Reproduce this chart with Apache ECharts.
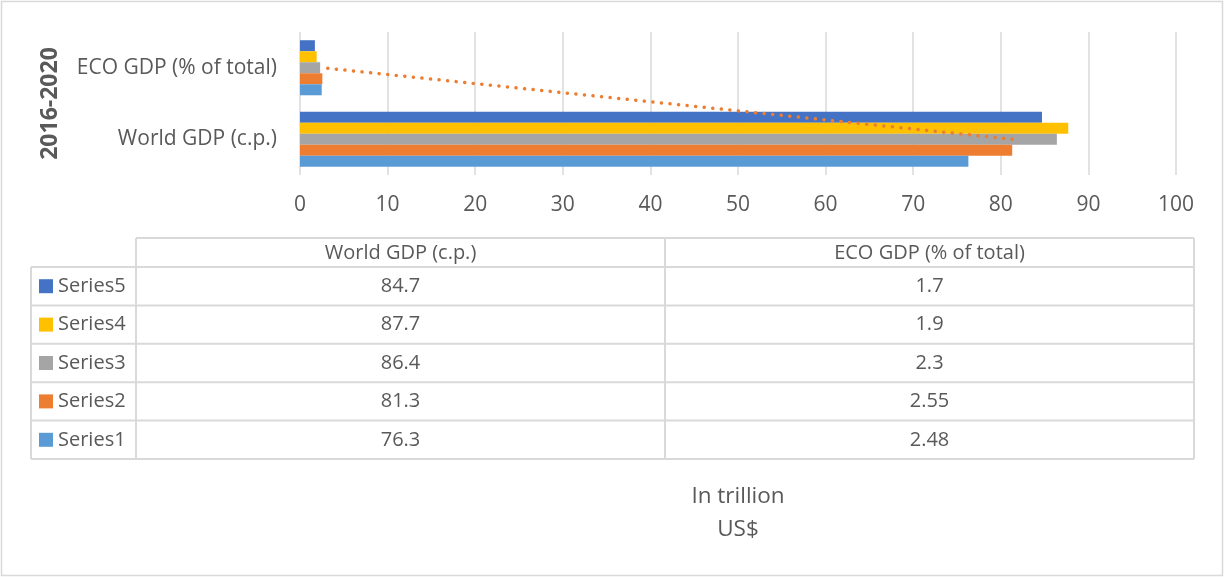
<!DOCTYPE html>
<html>
<head>
<meta charset="utf-8">
<script src="https://cdn.jsdelivr.net/npm/echarts@6/dist/echarts.min.js"></script>
<style>
  html, body { margin: 0; padding: 0; background: #fff; }
  #chart { width: 1225px; height: 577px; }
</style>
</head>
<body>
<div id="chart"></div>
<script>
// Categories, bottom to top on the bar axis
const categories = ['World GDP (c.p.)', 'ECO GDP (% of total)'];
const periodLabel = '2016-2020';
const seriesNames = ['Series1', 'Series2', 'Series3', 'Series4', 'Series5'];
const seriesColors = ['#5B9BD5', '#ED7D31', '#A5A5A5', '#FFC000', '#4472C4'];
// Values per series: [World GDP, ECO GDP]
const series1 = [76.3, 2.48];
const series2 = [81.3, 2.55];
const series3 = [86.4, 2.3];
const series4 = [87.7, 1.9];
const series5 = [84.7, 1.7];
const seriesValues = [series1, series2, series3, series4, series5];
const unitLines = ['In trillion', 'US$'];

const FONT = '"Open Sans", "Liberation Sans", sans-serif';
const TEXT = '#595959';
const RULE = '#D9D9D9';

const chart = echarts.init(document.getElementById('chart'), null, { renderer: 'canvas' });

// Horizontal bars stack top-down in series order, so Series5 goes first
const barSeries = seriesNames.map((name, i) => ({
  name: name,
  type: 'bar',
  data: seriesValues[i],
  itemStyle: { color: seriesColors[i] },
  barGap: '0%',
  barCategoryGap: '23%'
})).reverse();

// Linear trend through Series2
const trendSeries = {
  name: 'Linear (Series2)',
  type: 'line',
  data: series2,
  symbol: 'none',
  z: 5,
  lineStyle: { color: '#ED7D31', width: 3.5, type: [0.1, 8.5], cap: 'round' }
};

// Data table drawn under the plot
const tbl = { left: 31, c1: 136, c2: 665, right: 1194, headTop: 238, headBottom: 267, rowH: 38.4 };
const graphics = [];
function hline(y, x1, x2) {
  graphics.push({ type: 'line', shape: { x1: x1, y1: y, x2: x2, y2: y }, style: { stroke: RULE, lineWidth: 2 }, silent: true });
}
function vline(x, y1, y2) {
  graphics.push({ type: 'line', shape: { x1: x, y1: y1, x2: x, y2: y2 }, style: { stroke: RULE, lineWidth: 2 }, silent: true });
}
function label(text, x, y, align, size) {
  graphics.push({ type: 'text', x: x, y: y, silent: true,
    style: { text: text, fill: TEXT, fontSize: size || 20, fontFamily: FONT, align: align, verticalAlign: 'middle' } });
}
const nRows = seriesNames.length;
const tableBottom = tbl.headBottom + nRows * tbl.rowH;
hline(tbl.headTop, tbl.c1, tbl.right);
for (let r = 0; r <= nRows; r++) hline(tbl.headBottom + r * tbl.rowH, tbl.left, tbl.right);
vline(tbl.left, tbl.headBottom, tableBottom);
vline(tbl.c1, tbl.headTop, tableBottom);
vline(tbl.c2, tbl.headTop, tableBottom);
vline(tbl.right, tbl.headTop, tableBottom);
const headY = (tbl.headTop + tbl.headBottom) / 2;
label(categories[0], (tbl.c1 + tbl.c2) / 2, headY + 1, 'center');
label(categories[1], (tbl.c2 + tbl.right) / 2, headY + 1, 'center');
// Rows listed top-down from the last series
for (let r = 0; r < nRows; r++) {
  const s = nRows - 1 - r;
  const cy = tbl.headBottom + (r + 0.5) * tbl.rowH;
  graphics.push({ type: 'rect', shape: { x: 39, y: cy - 7, width: 14, height: 14 }, style: { fill: seriesColors[s] }, silent: true });
  label(seriesNames[s], 58, cy, 'left');
  label(String(seriesValues[s][0]), (tbl.c1 + tbl.c2) / 2, cy, 'center');
  label(String(seriesValues[s][1]), (tbl.c2 + tbl.right) / 2, cy, 'center');
}
// Unit note
unitLines.forEach((t, i) => label(t, 738, 497 + i * 33, 'center', 22.5));
// Chart frame
graphics.push({ type: 'rect', shape: { x: 1.5, y: 1.5, width: 1221, height: 574 }, style: { fill: 'none', stroke: RULE, lineWidth: 1.5 }, silent: true, z: -1 });

chart.setOption({
  animation: false,
  backgroundColor: '#fff',
  grid: { left: 300, right: 49, top: 32, bottom: 402 },
  xAxis: {
    type: 'value',
    min: 0,
    max: 100,
    interval: 10,
    axisLine: { show: false },
    axisTick: { show: false },
    axisLabel: { color: TEXT, fontSize: 21, fontFamily: FONT, margin: 20 },
    splitLine: { show: true, lineStyle: { color: RULE, width: 1.5 } }
  },
  yAxis: {
    type: 'category',
    data: categories,
    name: periodLabel,
    nameLocation: 'middle',
    nameRotate: 90,
    nameGap: 238,
    nameTextStyle: { color: TEXT, fontSize: 23, fontWeight: 'bold', fontFamily: FONT },
    axisLine: { show: false },
    axisTick: { show: false },
    axisLabel: { color: TEXT, fontSize: 21, fontFamily: FONT, margin: 23 }
  },
  series: barSeries.concat([trendSeries]),
  graphic: graphics
});
</script>
</body>
</html>
